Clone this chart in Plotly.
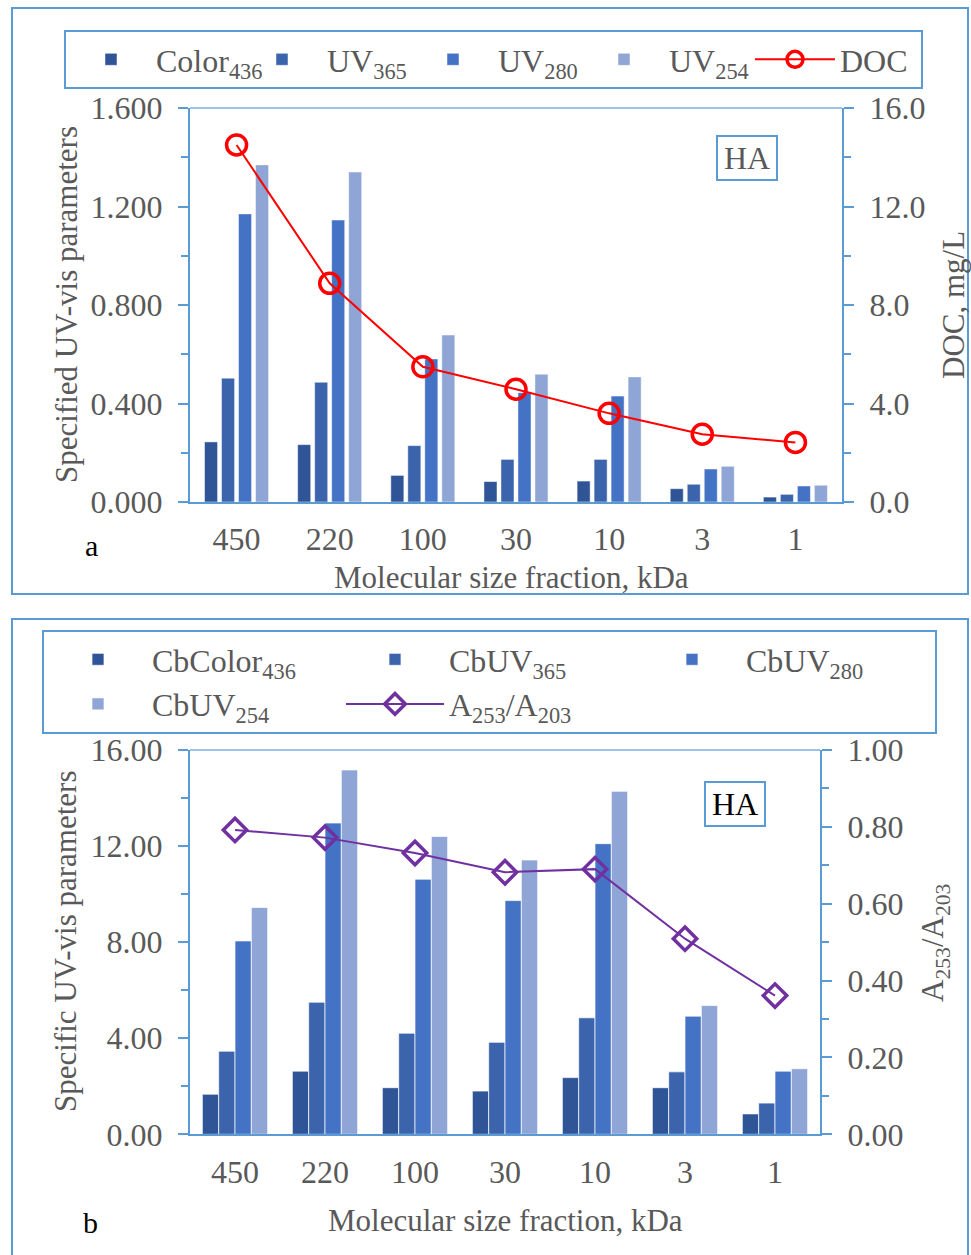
import plotly.graph_objects as go

# ---------------- data ----------------
categories = ["450", "220", "100", "30", "10", "3", "1"]

# Panel a (HA)
color436 = [0.244, 0.233, 0.108, 0.083, 0.085, 0.054, 0.020]
uv365 = [0.503, 0.486, 0.229, 0.173, 0.173, 0.072, 0.031]
uv280 = [1.170, 1.145, 0.581, 0.444, 0.430, 0.134, 0.065]
uv254 = [1.369, 1.340, 0.678, 0.519, 0.508, 0.145, 0.068]
doc = [14.5, 8.88, 5.49, 4.58, 3.60, 2.75, 2.42]

# Panel b (HA)
cb_color436 = [1.67, 2.63, 1.94, 1.80, 2.36, 1.94, 0.85]
cb_uv365 = [3.46, 5.50, 4.21, 3.83, 4.85, 2.60, 1.30]
cb_uv280 = [8.05, 12.96, 10.62, 9.73, 12.10, 4.92, 2.63]
cb_uv254 = [9.44, 15.17, 12.40, 11.42, 14.28, 5.36, 2.73]
a253_a203 = [0.792, 0.772, 0.732, 0.682, 0.690, 0.509, 0.361]

names_a = ["Color<sub>436</sub>", "UV<sub>365</sub>", "UV<sub>280</sub>", "UV<sub>254</sub>", "DOC"]
names_b = ["CbColor<sub>436</sub>", "CbUV<sub>365</sub>", "CbUV<sub>280</sub>", "CbUV<sub>254</sub>",
           "A<sub>253</sub>/A<sub>203</sub>"]

# ---------------- styling ----------------
W, H = 971, 1255
FONT = "Liberation Serif"
GREY = "#595959"
AXIS = "#5B9BD5"
BAR_COLORS = ["#2F5597", "#3C64AC", "#4472C4", "#8FA5D5"]


def px_x(x):
    return x / W


def px_y(y):
    return 1 - y / H


fig = go.Figure()

# panel a bars
a_series = [color436, uv365, uv280, uv254]
a_width = 0.14
a_step = 0.1825
for k, vals in enumerate(a_series):
    fig.add_trace(go.Bar(
        x=categories, y=vals, name=names_a[k], xaxis="x", yaxis="y",
        marker=dict(color=BAR_COLORS[k], line=dict(color="rgba(255,255,255,0.6)", width=0.8)),
        width=a_width, offset=-0.344 + k * a_step, legend="legend",
    ))
fig.add_trace(go.Scatter(
    x=categories, y=doc, name=names_a[4], xaxis="x", yaxis="y2", mode="lines+markers",
    line=dict(color="#FF0000", width=2),
    marker=dict(symbol="circle-open", size=20, color="#FF0000", line=dict(width=3.5)),
    legend="legend",
))

# panel b bars
b_series = [cb_color436, cb_uv365, cb_uv280, cb_uv254]
b_width = 0.1815
for k, vals in enumerate(b_series):
    fig.add_trace(go.Bar(
        x=categories, y=vals, name=names_b[k], xaxis="x2", yaxis="y3",
        marker=dict(color=BAR_COLORS[k], line=dict(color="rgba(255,255,255,0.7)", width=1)),
        width=b_width, offset=-0.363 + k * b_width, legend="legend2",
    ))
fig.add_trace(go.Scatter(
    x=categories, y=a253_a203, name=names_b[4], xaxis="x2", yaxis="y4", mode="lines+markers",
    line=dict(color="#7030A0", width=2),
    marker=dict(symbol="diamond-open", size=18, color="#7030A0", line=dict(width=3.5)),
    legend="legend2",
))

tickfont = dict(family=FONT, size=32, color=GREY)

dom_a = [px_y(502), px_y(108)]
dom_b = [px_y(1134.3), px_y(750)]


def yax(rng, dtick, minor, fmt, side="left", **kw):
    d = dict(range=rng, dtick=dtick, tick0=0, tickformat=fmt, side=side,
             showgrid=False, zeroline=False, showline=True, linecolor=AXIS, linewidth=2,
             ticks="outside", ticklen=10, tickwidth=2, tickcolor=AXIS,
             minor=dict(dtick=minor, tick0=0, ticks="outside", ticklen=7, tickwidth=2, tickcolor=AXIS),
             tickfont=tickfont, ticklabelstandoff=9, fixedrange=True, automargin=False)
    d.update(kw)
    return d


def xax(domain, anchor):
    return dict(domain=domain, anchor=anchor, type="category", range=[-0.5, 6.5],
                showgrid=False, zeroline=False, showline=True, linecolor=AXIS, linewidth=2,
                ticks="", tickfont=tickfont, ticklabelstandoff=8, fixedrange=True, automargin=False)


fig.update_layout(
    width=W, height=H,
    margin=dict(l=0, r=0, t=0, b=0, autoexpand=False),
    paper_bgcolor="white", plot_bgcolor="white",
    barmode="overlay",
    font=dict(family=FONT, color=GREY),
    xaxis=xax([px_x(190), px_x(842)], "y"),
    yaxis=yax([0, 1.6], 0.4, 0.2, ".3f", domain=dom_a, anchor="x"),
    yaxis2=yax([0, 16], 4, 2, ".1f", side="right", overlaying="y", anchor="x", domain=dom_a),
    xaxis2=xax([px_x(190), px_x(820)], "y3"),
    yaxis3=yax([0, 16], 4, 2, ".2f", domain=dom_b, anchor="x2"),
    yaxis4=yax([0, 1], 0.2, 0.1, ".2f", side="right", overlaying="y3", anchor="x2", domain=dom_b),
    legend=dict(x=px_x(64), y=px_y(30), xanchor="left", yanchor="top", orientation="h",
                bordercolor=AXIS, borderwidth=2, bgcolor="white",
                font=dict(family=FONT, size=32, color=GREY),
                itemwidth=80, entrywidth=76, entrywidthmode="pixels", traceorder="normal"),
    legend2=dict(x=px_x(42), y=px_y(630), xanchor="left", yanchor="top", orientation="h",
                 bordercolor=AXIS, borderwidth=2, bgcolor="white",
                 font=dict(family=FONT, size=32, color=GREY),
                 itemwidth=98, entrywidth=184, entrywidthmode="pixels", traceorder="normal"),
    showlegend=True,
)

shapes = [
    # outer panel frames
    dict(type="rect", xref="paper", yref="paper", x0=px_x(12), x1=px_x(968), y0=px_y(594), y1=px_y(8),
         line=dict(color=AXIS, width=2), layer="below"),
    dict(type="rect", xref="paper", yref="paper", x0=px_x(12), x1=px_x(968), y0=-0.01, y1=px_y(619),
         line=dict(color=AXIS, width=2), layer="below"),
    # top borders of plot areas
    dict(type="line", xref="x domain", yref="y domain", x0=0, x1=1, y0=1, y1=1,
         line=dict(color="#9DC3E6", width=2)),
    dict(type="line", xref="x2 domain", yref="y3 domain", x0=0, x1=1, y0=1, y1=1,
         line=dict(color="#9DC3E6", width=2)),
]
fig.update_layout(shapes=shapes)

title_font = dict(family=FONT, size=31, color=GREY)
annotations = [
    dict(text="Specified UV-vis parameters", x=px_x(66), y=px_y(305), textangle=-90, font=title_font),
    dict(text="DOC, mg/L", x=px_x(953), y=px_y(305), textangle=-90, font=title_font),
    dict(text="Molecular size fraction, kDa", x=px_x(511), y=px_y(577), font=title_font),
    dict(text="Specific UV-vis parameters", x=px_x(65), y=px_y(942), textangle=-90, font=title_font),
    dict(text="A<sub>253</sub>/A<sub>203</sub>", x=px_x(935), y=px_y(943), textangle=-90, font=title_font),
    dict(text="Molecular size fraction, kDa", x=px_x(505), y=px_y(1220), font=title_font),
    dict(text="a", x=px_x(91), y=px_y(545), font=dict(family=FONT, size=30, color="black")),
    dict(text="b", x=px_x(90), y=px_y(1222), font=dict(family=FONT, size=30, color="black")),
    dict(text="HA", x=px_x(747), y=px_y(158), width=56, height=40, bgcolor="white",
         bordercolor=AXIS, borderwidth=2, borderpad=1, font=dict(family=FONT, size=32, color=GREY)),
    dict(text="HA", x=px_x(734.5), y=px_y(803.5), width=56, height=40, bgcolor="white",
         bordercolor=AXIS, borderwidth=2, borderpad=1, font=dict(family=FONT, size=32, color="black")),
]
for a in annotations:
    a.update(dict(xref="paper", yref="paper", xanchor="center", yanchor="middle", showarrow=False))
fig.update_layout(annotations=annotations)

fig.write_html("out.html")
